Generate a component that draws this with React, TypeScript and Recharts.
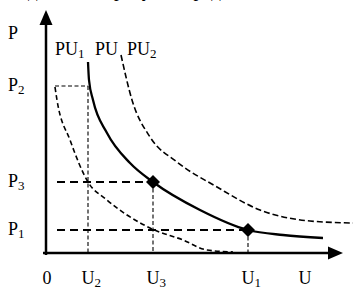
import { ComposedChart, Line, Scatter, XAxis, YAxis, ReferenceLine } from 'recharts';

// key levels on the axes
const U2 = 4.2;
const U3 = 10.7;
const U1 = 20.2;
const P1 = 2.3;
const P3 = 7.1;
const P2 = 16.7;

// PU (solid) curve
const pu = [
  { u: 4.2, p: 19.1 }, { u: 4.3, p: 17.3 }, { u: 4.7, p: 15.3 }, { u: 6.1, p: 12.0 },
  { u: 8.4, p: 9.0 }, { u: 10.7, p: 7.1 }, { u: 15.4, p: 4.3 }, { u: 20.2, p: 2.3 },
  { u: 23.7, p: 1.8 }, { u: 27.7, p: 1.5 },
];

// PU1 (inner dashed)
const pu1 = [
  { u: 0.9, p: 16.6 }, { u: 1.1, p: 15.3 }, { u: 2.4, p: 11.3 }, { u: 4.2, p: 7.1 },
  { u: 6.1, p: 5.3 }, { u: 10.4, p: 2.5 }, { u: 13.7, p: 1.3 }, { u: 16.1, p: 0.3 },
  { u: 18.7, p: 0.1 },
];

// PU2 (outer dashed)
const pu2 = [
  { u: 7.5, p: 19.8 }, { u: 8.6, p: 15.3 }, { u: 10.4, p: 11.6 }, { u: 13.1, p: 9.1 },
  { u: 17.1, p: 6.6 }, { u: 21.4, p: 4.3 }, { u: 26.4, p: 3.2 }, { u: 30.7, p: 3.0 },
];

const marked = [{ u: U3, p: P3 }, { u: U1, p: P1 }];

const xTicks = [0, U2, U3, U1, 25.9];
const xLabels = ['0', 'U2', 'U3', 'U1', 'U'];
const yTicks = [P1, P3, P2, 21.9];
const yLabels = ['P1', 'P3', 'P2', 'P'];
const curveNames = ['PU1', 'PU', 'PU2'];

const FONT = '"Liberation Serif", "Times New Roman", serif';
const guideStart = 1.1;

function SubText({ x, y, label }: { x: number; y: number; label: string }) {
  const sub = (label.match(/\d+$/) || [''])[0];
  const main = sub && sub !== label ? label.slice(0, -sub.length) : label;
  return (
    <text x={x} y={y} fontFamily={FONT} fontSize={18} fill="#000">
      {main}
      {sub && sub !== label && <tspan fontSize={13} dy={2.5}>{sub}</tspan>}
    </text>
  );
}

const XTick = (props: any) => {
  const { x, y, payload } = props;
  const label = xLabels[xTicks.indexOf(payload.value)] ?? '';
  const half = label[0] === '0' ? 3.5 : 6.5;
  return <SubText x={x - half} y={y + 23} label={label} />;
};

const YTick = (props: any) => {
  const { y, payload } = props;
  const label = yLabels[yTicks.indexOf(payload.value)] ?? '';
  return <SubText x={8} y={y + 5} label={label} />;
};

const Diamond = (props: any) => {
  const { cx, cy } = props;
  const r = 7;
  return <polygon points={`${cx},${cy - r} ${cx + r},${cy} ${cx},${cy + r} ${cx - r},${cy}`} fill="#000" />;
};

const ArrowAxis = (props: any) => {
  const { x1, y1, x2, y2 } = props;
  const len = Math.hypot(x2 - x1, y2 - y1) || 1;
  const ux = (x2 - x1) / len;
  const uy = (y2 - y1) / len;
  const bx = x2 - ux * 15;
  const by = y2 - uy * 15;
  return (
    <g>
      <line x1={x1} y1={y1} x2={bx} y2={by} stroke="#000" strokeWidth={2.5} />
      <polygon
        points={`${x2},${y2} ${bx - uy * 6.5},${by + ux * 6.5} ${bx + uy * 6.5},${by - ux * 6.5}`}
        fill="#000"
      />
    </g>
  );
};

export default function App() {
  const thin = { stroke: '#000', strokeWidth: 1.1, strokeDasharray: '4 2.5' };
  const thick = { stroke: '#000', strokeWidth: 2, strokeDasharray: '8 5' };
  return (
    <div style={{ position: 'absolute', left: 0, top: 0, width: 353, height: 289, background: '#fff', overflow: 'hidden' }}>
      <ComposedChart width={353} height={289} margin={{ top: 10, right: 0, bottom: 0, left: 0 }}>
        <XAxis
          type="number"
          dataKey="u"
          domain={[0, 30.7]}
          allowDataOverflow
          ticks={xTicks}
          tick={<XTick />}
          axisLine={false}
          tickLine={false}
          height={36}
          interval={0}
        />
        <YAxis
          type="number"
          dataKey="p"
          domain={[0, 24.3]}
          allowDataOverflow
          ticks={yTicks}
          tick={<YTick />}
          axisLine={false}
          tickLine={false}
          width={46}
          interval={0}
        />
        <text x={10} y={-3} fontFamily={FONT} fontSize={19} fill="#000">Задача 2. На рисунке пред</text>
        <ReferenceLine segment={[{ x: pu1[0].u, y: P2 }, { x: U2, y: P2 }]} {...thin} />
        <ReferenceLine segment={[{ x: U2, y: P2 }, { x: U2, y: 0 }]} {...thin} />
        <ReferenceLine segment={[{ x: U3, y: P3 }, { x: U3, y: 0 }]} {...thin} />
        <ReferenceLine segment={[{ x: U1, y: P1 }, { x: U1, y: 0 }]} {...thin} />
        <ReferenceLine segment={[{ x: guideStart, y: P3 }, { x: U3, y: P3 }]} {...thick} />
        <ReferenceLine segment={[{ x: guideStart, y: P1 }, { x: U1, y: P1 }]} {...thick} />
        <Line data={pu1} dataKey="p" type="monotone" stroke="#000" strokeWidth={1.6} strokeDasharray="5 3" dot={false} isAnimationActive={false} />
        <Line data={pu2} dataKey="p" type="monotone" stroke="#000" strokeWidth={1.6} strokeDasharray="6 3" dot={false} isAnimationActive={false} />
        <Line data={pu} dataKey="p" type="monotone" stroke="#000" strokeWidth={2.3} dot={false} isAnimationActive={false} />
        <ReferenceLine segment={[{ x: -0.3, y: 0 }, { x: 29.7, y: 0 }]} ifOverflow="visible" shape={ArrowAxis} />
        <ReferenceLine segment={[{ x: 0, y: -0.2 }, { x: 0, y: 24.3 }]} ifOverflow="visible" shape={ArrowAxis} />
        <Scatter data={marked} dataKey="p" shape={Diamond} isAnimationActive={false} />
        <SubText x={55} y={55} label={curveNames[0]} />
        <SubText x={95} y={55} label={curveNames[1]} />
        <SubText x={127} y={55} label={curveNames[2]} />
      </ComposedChart>
    </div>
  );
}
